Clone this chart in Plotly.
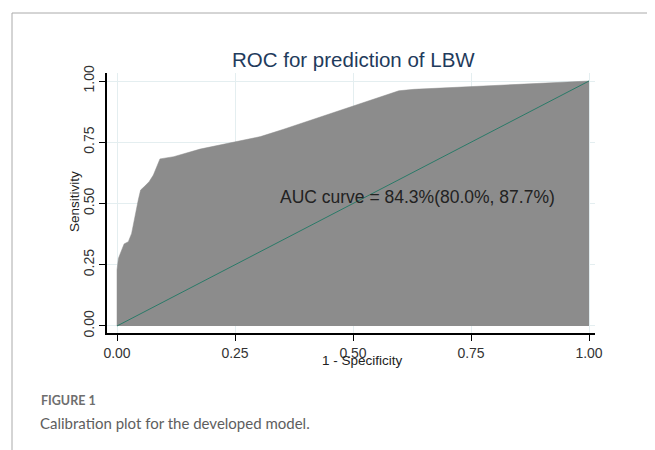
import plotly.graph_objects as go

# ROC curve points (1 - specificity, sensitivity)
fpr = [0.0, 0.0, 0.003, 0.008, 0.015, 0.024, 0.031, 0.045, 0.050, 0.059, 0.068,
       0.077, 0.091, 0.120, 0.176, 0.304, 0.353, 0.597, 0.629, 1.0]
tpr = [0.0, 0.229, 0.276, 0.303, 0.335, 0.344, 0.378, 0.514, 0.555, 0.571, 0.589,
       0.616, 0.682, 0.691, 0.722, 0.773, 0.803, 0.960, 0.966, 1.0]
ref_x = [0.0, 1.0]
ref_y = [0.0, 1.0]
tick_vals = [0.0, 0.25, 0.5, 0.75, 1.0]
tick_text = ["0.00", "0.25", "0.50", "0.75", "1.00"]
title_text = "ROC for prediction of LBW"
auc_text = "AUC curve = 84.3%(80.0%, 87.7%)"

W, H = 655, 450
OFF = 8  # page body margin offset
L, R, T, B = 107 - OFF, 595 - OFF, 73 - OFF, 333 - OFF

fig = go.Figure()
fig.add_trace(go.Scatter(x=fpr, y=tpr, mode="lines", fill="tozeroy",
                         line=dict(color="#8c8c8c", width=0.5),
                         fillcolor="#8c8c8c", hoverinfo="skip"))
fig.add_trace(go.Scatter(x=ref_x, y=ref_y, mode="lines",
                         line=dict(color="#2a7a68", width=1), hoverinfo="skip"))

font_family = "Liberation Sans, Arial, sans-serif"

def px2paper_x(px):
    return (px - OFF - L) / (R - L)

def px2paper_y(py):
    return (B - (py - OFF)) / (B - T)

fig.update_layout(
    width=W, height=H,
    margin=dict(l=L, r=W - R, t=T, b=H - B, pad=0),
    paper_bgcolor="white", plot_bgcolor="white",
    showlegend=False,
    font=dict(family=font_family, color="#222222"),
    xaxis=dict(range=[-0.0212, 1.0127], tickvals=tick_vals, ticktext=tick_text,
               showgrid=True, gridcolor="#e4eef0", gridwidth=1, zeroline=False,
               showline=True, linecolor="black", linewidth=1.5,
               ticks="outside", ticklen=6, tickcolor="black", tickwidth=1.2,
               tickfont=dict(size=14, color="#333333"), fixedrange=True),
    yaxis=dict(range=[-0.0286, 1.0327], tickvals=tick_vals, ticktext=tick_text,
               showgrid=True, gridcolor="#e4eef0", gridwidth=1, zeroline=False,
               showline=True, linecolor="black", linewidth=1.5,
               ticks="outside", ticklen=6, tickcolor="black", tickwidth=1.2,
               tickangle=-90, ticklabelstandoff=0,
               tickfont=dict(size=14, color="#333333"), fixedrange=True),
)

anns = [
    dict(text=title_text, x=px2paper_x(353), y=px2paper_y(60), xref="paper", yref="paper",
         showarrow=False, font=dict(size=20.5, color="#1f3b5c", family=font_family),
         xanchor="center", yanchor="middle"),
    dict(text="1 - Specificity", x=px2paper_x(362), y=px2paper_y(360), xref="paper", yref="paper",
         showarrow=False, font=dict(size=13.5, color="#222222", family=font_family),
         xanchor="center", yanchor="middle"),
    dict(text="Sensitivity", x=px2paper_x(74), y=px2paper_y(202), xref="paper", yref="paper",
         showarrow=False, textangle=-90, font=dict(size=13.5, color="#222222", family=font_family),
         xanchor="center", yanchor="middle"),
    dict(text=auc_text, x=0.341, y=0.527, xref="x", yref="y",
         showarrow=False, font=dict(size=17.5, color="#222222", family=font_family),
         xanchor="left", yanchor="middle"),
    dict(text="<b>FIGURE 1</b>", x=px2paper_x(39), y=px2paper_y(400), xref="paper", yref="paper",
         showarrow=False, font=dict(size=12.5, color="#6e6e6e", family="Lato, Open Sans, sans-serif"),
         xanchor="left", yanchor="middle"),
    dict(text="Calibration plot for the developed model.", x=px2paper_x(38), y=px2paper_y(423),
         xref="paper", yref="paper",
         showarrow=False, font=dict(size=15, color="#5e5e5e", family="Lato, Open Sans, sans-serif"),
         xanchor="left", yanchor="middle"),
]
fig.update_layout(annotations=anns)

# figure frame lines (top and left)
fig.add_shape(type="line", xref="paper", yref="paper",
              x0=px2paper_x(12), x1=px2paper_x(670), y0=px2paper_y(13), y1=px2paper_y(13),
              line=dict(color="#aaaaaa", width=1))
fig.add_shape(type="line", xref="paper", yref="paper",
              x0=px2paper_x(12), x1=px2paper_x(12), y0=px2paper_y(13), y1=px2paper_y(470),
              line=dict(color="#aaaaaa", width=1))

fig.write_html("out.html", config={"displayModeBar": False})
